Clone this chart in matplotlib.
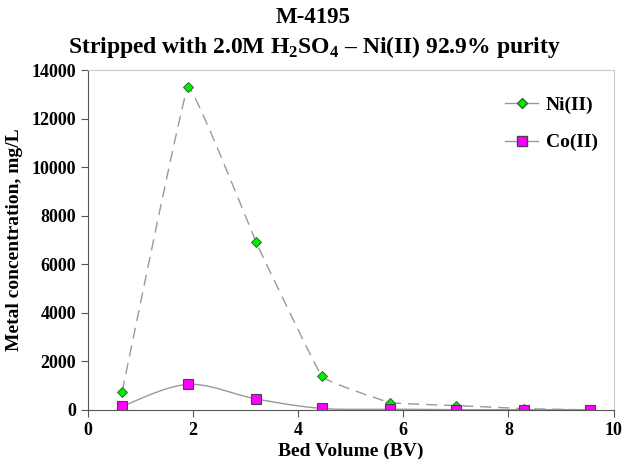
import numpy as np
import matplotlib
matplotlib.use("Agg")
import matplotlib.pyplot as plt

plt.rcParams['font.family'] = ['Liberation Serif', 'DejaVu Serif']
plt.rcParams['font.weight'] = 'bold'
plt.rcParams['mathtext.fontset'] = 'custom'
plt.rcParams['mathtext.rm'] = 'Liberation Serif:bold'
plt.rcParams['mathtext.bf'] = 'Liberation Serif:bold'

bv = [0.65, 1.9, 3.2, 4.45, 5.75, 7.0, 8.3, 9.55]
ni = [750, 13300, 6900, 1380, 300, 180, 50, 0]
co = [150, 1050, 450, 60, 30, 10, 10, 10]


def smooth(x, y, k, n=30):
    # bezier smoothing in screen-like units, k = tangent factor
    x = np.asarray(x, float) / 10 * 526
    y = np.asarray(y, float) / 14000 * 340
    px = np.concatenate([[x[0]], x, [x[-1]]])
    py = np.concatenate([[y[0]], y, [y[-1]]])
    t = np.linspace(0, 1, n)[:, None]
    pts = []
    for i in range(1, len(px) - 2):
        p0 = np.array([px[i], py[i]])
        p3 = np.array([px[i + 1], py[i + 1]])
        p1 = p0 + k * np.array([px[i + 1] - px[i - 1], py[i + 1] - py[i - 1]])
        p2 = p3 - k * np.array([px[i + 2] - px[i], py[i + 2] - py[i]])
        seg = ((1 - t) ** 3 * p0 + 3 * (1 - t) ** 2 * t * p1
               + 3 * (1 - t) * t ** 2 * p2 + t ** 3 * p3)
        pts.append(seg)
    pts = np.vstack(pts)
    return pts[:, 0] / 526 * 10, pts[:, 1] / 340 * 14000


fig = plt.figure(figsize=(6.22, 4.59), dpi=100)
ax = fig.add_axes([0.1415, 0.107, 0.845, 0.740])

sx, sy = smooth(bv, ni, 0.035)
ax.plot(sx, sy, color='#999999', lw=1, dashes=(8, 5))
sx, sy = smooth(bv, co, 1 / 6)
ax.plot(sx, sy, color='#999999', lw=1)

ax.plot(bv, ni, ls='none', marker='D', ms=5, mfc='#00ee00', mec='#336633', mew=0.7)
ax.plot(bv, co, ls='none', marker='s', ms=7, mfc='#ff00ff', mec='#444444', mew=0.8)

# legend proxies
ax.plot([], [], color='#999999', lw=1, marker='D', ms=5, mfc='#00ee00', mec='#336633', label='Ni(II)')
ax.plot([], [], color='#999999', lw=1, marker='s', ms=6.5, mfc='#ff00ff', mec='#444444', label='Co(II)')
ax.legend(loc='upper right', frameon=False, fontsize=14, handlelength=1.7,
          handletextpad=0.4, labelspacing=1.0, borderaxespad=0.0,
          bbox_to_anchor=(0.985, 0.945))

ax.set_xlim(0, 10)
ax.set_ylim(0, 14000)
ax.set_xticks([0, 2, 4, 6, 8, 10])
ax.set_yticks(range(0, 14001, 2000))
ax.tick_params(labelsize=13, direction='out', length=5, color='#555555')
ax.spines['top'].set_color('#cccccc')
ax.spines['right'].set_color('#cccccc')
ax.spines['left'].set_color('#555555')
ax.spines['bottom'].set_color('#555555')

ax.set_xlabel('Bed Volume (BV)', fontsize=14, fontweight='bold', labelpad=3)
ax.set_ylabel('Metal concentration, mg/L', fontsize=14, fontweight='bold', labelpad=6)
fig.text(0.503, 0.961, 'M-4195', fontsize=16.5, fontweight='bold', ha='center', va='center')
fig.text(0.505, 0.897, 'Stripped with 2.0M H$_\\mathrm{2}$SO$_\\mathrm{4}$ \u2013 Ni(II) 92.9% purity',
         fontsize=17, fontweight='bold', ha='center', va='center')

fig.savefig('out.png', dpi=100)
